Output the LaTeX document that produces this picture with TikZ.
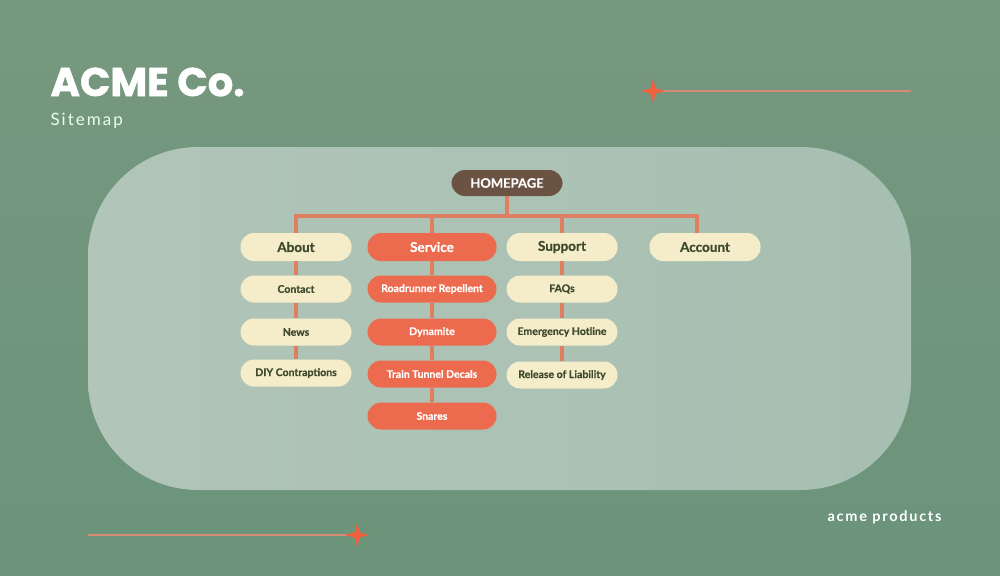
\documentclass[tikz,border=0pt]{standalone}
\usepackage{fontspec}
\setmainfont{Lato}
\newfontfamily\poppins[FakeBold=1.2]{Poppins}
\newfontfamily\boxfont[FakeBold=0.6]{Lato}
\usetikzlibrary{positioning}
\definecolor{bgtop}{HTML}{76987F}
\definecolor{bgbot}{HTML}{6B947B}
\definecolor{panelL}{HTML}{B1C5B8}
\definecolor{panelR}{HTML}{A6BFB1}
\definecolor{brownbox}{HTML}{6A5342}
\definecolor{cream}{HTML}{F5ECC9}
\definecolor{creamtext}{HTML}{3E4A2E}
\definecolor{coral}{HTML}{EC6A4E}
\definecolor{linecol}{HTML}{DE7F63}
\definecolor{decoline}{HTML}{D48D74}
\definecolor{starcol}{HTML}{F0603F}
\tikzset{
  pill/.style={rounded corners=13.5pt, minimum height=27pt, inner sep=0pt, font=\boxfont\bfseries\fontsize{10.5}{12}\selectfont},
  lvlone/.style={pill, minimum height=28pt, font=\boxfont\bfseries\fontsize{13.5}{15}\selectfont},
  creambox/.style={fill=cream, text=creamtext},
  coralbox/.style={fill=coral, text=white},
  narrow/.style={minimum width=111pt},
  wide/.style={minimum width=129pt},
  conn/.style={draw=linecol, line width=3.2pt},
  deco/.style={draw=decoline, line width=2.6pt},
}
\newcommand{\mystar}[1]{\fill[starcol] (#1) ++(0,-12) -- ++(2.6,9.4) -- ++(9.4,2.6) -- ++(-9.4,2.6) -- ++(-2.6,9.4) -- ++(-2.6,-9.4) -- ++(-9.4,-2.6) -- ++(9.4,-2.6) -- cycle;}
\begin{document}
\begin{tikzpicture}[x=1pt,y=-1pt]
\useasboundingbox (0,0) rectangle (1000,575);
\shade[top color=bgtop, bottom color=bgbot] (0,0) rectangle (1000,575);
\shade[left color=panelL, right color=panelR, rounded corners=110pt] (88,147) rectangle (911,490);

% title texts
\node[anchor=west, text=white, font=\poppins\bfseries\fontsize{40}{44}\selectfont] (title) at (47,82) {ACME Co.};
\node[anchor=west, text=white!92!green, font=\fontsize{17}{20}\selectfont] (sub) at (47,121) {\addfontfeature{LetterSpace=12}Sitemap};
\node[anchor=east, text=white, font=\bfseries\fontsize{14.5}{17}\selectfont] (foot) at (945,517) {\addfontfeature{LetterSpace=12}acme products};

% decorative lines
\coordinate (s1) at (653,91);
\coordinate (e1) at (911,91);
\coordinate (s2) at (357,535);
\coordinate (e2) at (88,535);
\draw[deco] (s1) -- (e1);
\draw[deco] (s2) -- (e2);
\mystar{s1}
\mystar{s2}

% nodes
\node[pill, fill=brownbox, text=white, minimum width=111pt, minimum height=26pt, font=\boxfont\bfseries\fontsize{13}{15}\selectfont] (home) at (507,183) {HOMEPAGE};

\node[lvlone, creambox, narrow] (about) at (296,247) {About};
\node[lvlone, coralbox, wide] (service) at (432,247) {Service};
\node[lvlone, creambox, narrow] (support) at (562,247) {Support};
\node[lvlone, creambox, narrow] (account) at (705,247) {Account};

\node[pill, creambox, narrow] (contact) at (296,289) {Contact};
\node[pill, creambox, narrow] (news) at (296,332) {News};
\node[pill, creambox, narrow] (diy) at (296,373) {DIY Contraptions};

\node[pill, coralbox, wide] (road) at (432,289) {Roadrunner Repellent};
\node[pill, coralbox, wide] (dyn) at (432,332) {Dynamite};
\node[pill, coralbox, wide] (train) at (432,374) {Train Tunnel Decals};
\node[pill, coralbox, wide] (snares) at (432,416) {Snares};

\node[pill, creambox, narrow] (faq) at (562,289) {FAQs};
\node[pill, creambox, narrow] (hot) at (562,332) {Emergency Hotline};
\node[pill, creambox, narrow] (rel) at (562,375) {Release of Liability};

% connectors
\coordinate (bus) at (507,216);
\coordinate (busL) at (296,216);
\coordinate (busR) at (697,216);
\coordinate (accTop) at (697,233);
\draw[conn] (home.south) -- (bus);
\draw[conn, line cap=rect] (busL) -- (busR);
\draw[conn] (busL) -- (about.north);
\draw[conn] (service.north |- bus) -- (service.north);
\draw[conn] (support.north |- bus) -- (support.north);
\draw[conn] (busR) -- (accTop);

\draw[conn] (about.south) -- (contact.north);
\draw[conn] (contact.south) -- (news.north);
\draw[conn] (news.south) -- (diy.north);
\draw[conn] (service.south) -- (road.north);
\draw[conn] (road.south) -- (dyn.north);
\draw[conn] (dyn.south) -- (train.north);
\draw[conn] (train.south) -- (snares.north);
\draw[conn] (support.south) -- (faq.north);
\draw[conn] (faq.south) -- (hot.north);
\draw[conn] (hot.south) -- (rel.north);
\end{tikzpicture}
\end{document}
